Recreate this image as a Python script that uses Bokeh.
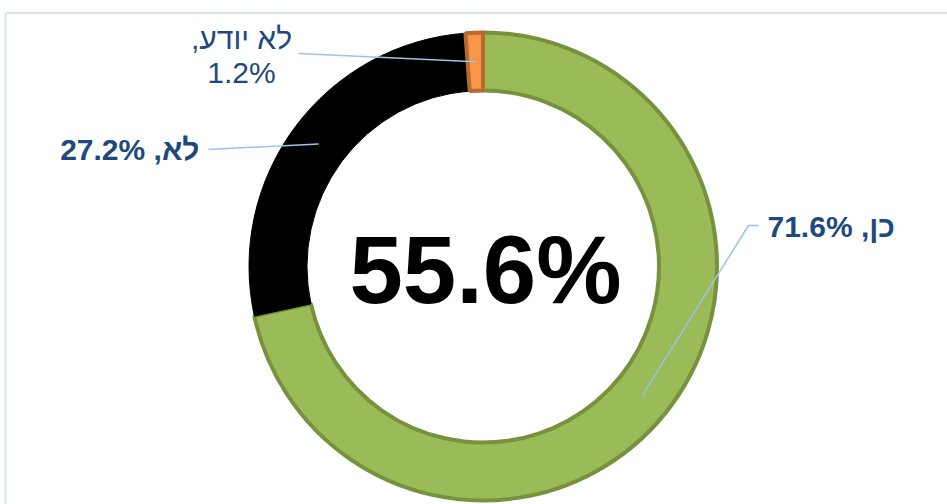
import numpy as np
from bokeh.plotting import figure
from bokeh.models import Range1d, ColumnDataSource
from bokeh.embed import file_html
from bokeh.resources import INLINE
from bokeh.core.properties import value

# ---- data ----
categories = ["כן", "לא", "לא יודע"]
values = [71.6, 27.2, 1.2]
center_label = "55.6%"

# ---- styles ----
fill_colors = ["#9BBB59", "#000000", "#F79646"]
line_colors = ["#76923C", "#000000", "#B66A2C"]
line_widths = [4, 1, 4]
TEXT_COLOR = "#1F497D"
LEADER_COLOR = "#9DC3E6"
FONT = "Liberation Sans"

# ---- layout (screen pixel coords) ----
PAGE_W, PAGE_H = 947, 504
def Y(py):
    return PAGE_H - py

CX, CY = 482.5, 266.0
R_OUT, R_IN = 234.0, 176.0

p = figure(width=PAGE_W, height=PAGE_H, x_range=Range1d(0, PAGE_W), y_range=Range1d(0, PAGE_H),
           output_backend="svg", toolbar_location=None, min_border=0,
           x_axis_type=None, y_axis_type=None)
p.outline_line_color = None
p.background_fill_color = "white"
p.border_fill_color = "white"

# frame
p.line(x=[5, 947], y=[Y(12.5), Y(12.5)], line_color="#D6E2F0", line_width=2)
p.line(x=[5, 5], y=[Y(12.5), Y(504)], line_color="#D6E2F0", line_width=2)

# doughnut
vals = np.array(values, dtype=float)
frac = vals / vals.sum()
cum = np.concatenate([[0.0], np.cumsum(frac)])
start = np.pi / 2 - 2 * np.pi * cum[:-1]
end = np.pi / 2 - 2 * np.pi * cum[1:]
src = ColumnDataSource(dict(start=start, end=end, fill=fill_colors,
                            line=line_colors, lw=line_widths))
p.annular_wedge(x=CX, y=Y(CY), inner_radius=R_IN, outer_radius=R_OUT,
                start_angle="start", end_angle="end", direction="clock",
                fill_color="fill", line_color="line", line_width="lw", source=src)

# leader lines: from label to middle of the slice
mid = (cum[:-1] + cum[1:]) / 2
ang = np.pi / 2 - 2 * np.pi * mid
r_mid = (R_IN + R_OUT) / 2
ex = CX + r_mid * np.cos(ang)
ey = Y(CY) + r_mid * np.sin(ang)
leader_starts = [[(758, 225), (748, 225)], [(208, 149)], [(298, 53)]]
xs, ys = [], []
for i, pts in enumerate(leader_starts):
    xs.append([pt[0] for pt in pts] + [ex[i]])
    ys.append([Y(pt[1]) for pt in pts] + [ey[i]])
p.multi_line(xs=xs, ys=ys, line_color=LEADER_COLOR, line_width=1.5)

# labels
bold_src = ColumnDataSource(dict(
    x=[767, 199],
    y=[Y(226), Y(149)],
    t=[f"{categories[0]}, {values[0]}%", f"{categories[1]}, {values[1]}%"],
    a=["left", "right"],
))
p.text(x="x", y="y", text="t", text_align="a", text_baseline="alphabetic",
       text_font=value(FONT), text_font_style="bold", text_font_size="30px",
       text_color=TEXT_COLOR, source=bold_src)

reg_src = ColumnDataSource(dict(
    x=[241, 241],
    y=[Y(38), Y(72)],
    t=[f"{categories[2]},\u200f", f"{values[2]}%"],
))
p.text(x="x", y="y", text="t", text_align="center", text_baseline="alphabetic",
       text_font=value(FONT), text_font_size="30px",
       text_color=TEXT_COLOR, source=reg_src)

# center value
p.text(x=[485], y=[Y(269)], text=[center_label], text_align="center",
       text_baseline="alphabetic", text_font=value(FONT), text_font_style="bold",
       text_font_size="96px", text_color="black")

open("out.html", "w").write(file_html(p, INLINE))
